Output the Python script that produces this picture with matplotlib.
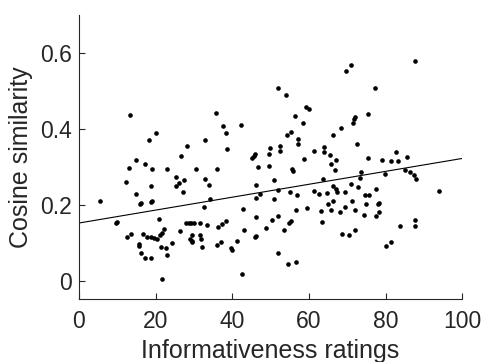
import matplotlib
matplotlib.use("Agg")
import matplotlib.pyplot as plt
import numpy as np

# informativeness rating per item (x) and cosine similarity (y)
ratings = [
    5.5, 9.6, 10.0, 12.3, 12.5, 13.2, 13.4, 13.6, 14.8, 15.0,
    15.6, 15.7, 15.9, 16.2, 16.1, 16.6, 17.2, 17.3, 17.8, 18.2,
    18.7, 18.9, 19.1, 18.9, 19.2, 18.7, 19.5, 20.2, 20.5, 20.9,
    21.4, 21.1, 21.7, 21.7, 22.2, 22.7, 22.9, 23.0, 24.2, 25.4,
    25.3, 26.1, 26.5, 26.7, 27.2, 27.5, 28.2, 28.0, 28.6, 29.3,
    30.1, 28.9, 29.4, 29.6, 29.5, 30.5, 31.7, 31.5, 31.9, 32.1,
    32.7, 32.8, 32.8, 33.3, 33.9, 34.1, 35.8, 36.1, 36.2, 36.1,
    37.1, 37.4, 37.7, 38.3, 38.3, 38.7, 39.7, 39.9, 41.3, 42.2,
    42.7, 42.5, 43.2, 45.1, 45.6, 45.9, 46.1, 46.0, 46.2, 46.2,
    46.2, 46.8, 47.2, 48.7, 49.6, 49.7, 49.8, 50.3, 50.8, 50.9,
    52.0, 52.0, 52.0, 52.0, 52.4, 52.5, 53.6, 54.0, 54.2, 54.6,
    54.8, 55.3, 55.2, 55.3, 55.6, 55.9, 56.4, 56.6, 56.6, 56.8,
    57.2, 57.2, 58.5, 58.6, 59.4, 59.3, 59.9, 61.3, 61.4, 62.6,
    63.1, 63.4, 63.8, 63.9, 64.0, 64.7, 64.9, 65.6, 65.8, 65.8,
    66.2, 66.2, 66.4, 66.8, 67.2, 67.2, 67.3, 68.2, 68.5, 68.7,
    69.5, 69.5, 69.8, 71.0, 70.5, 71.0, 71.2, 71.4, 71.8, 72.0,
    71.9, 71.9, 72.6, 72.9, 73.5, 73.4, 74.5, 74.7, 74.9, 75.3,
    75.3, 75.6, 77.2, 77.4, 77.6, 78.0, 78.4, 78.2, 79.1, 79.9,
    80.2, 81.3, 81.5, 82.6, 83.3, 83.7, 85.5, 85.1, 86.5, 87.4,
    87.9, 87.6, 87.6, 87.8, 93.9,
]
similarity = [
    0.210, 0.152, 0.154, 0.260, 0.116, 0.297, 0.437, 0.124, 0.317, 0.228,
    0.091, 0.096, 0.201, 0.205, 0.074, 0.124, 0.059, 0.307, 0.114, 0.370,
    0.250, 0.208, 0.211, 0.061, 0.293, 0.114, 0.112, 0.388, 0.109, 0.163,
    0.088, 0.120, 0.127, 0.004, 0.137, 0.085, 0.067, 0.294, 0.100, 0.272,
    0.250, 0.257, 0.131, 0.328, 0.234, 0.265, 0.355, 0.153, 0.153, 0.153,
    0.152, 0.109, 0.103, 0.104, 0.120, 0.293, 0.152, 0.120, 0.110, 0.088,
    0.194, 0.371, 0.269, 0.148, 0.253, 0.215, 0.441, 0.293, 0.142, 0.095,
    0.102, 0.150, 0.407, 0.389, 0.158, 0.347, 0.087, 0.081, 0.104, 0.411,
    0.188, 0.017, 0.133, 0.323, 0.329, 0.334, 0.118, 0.114, 0.251, 0.169,
    0.219, 0.300, 0.229, 0.139, 0.302, 0.334, 0.350, 0.159, 0.264, 0.214,
    0.170, 0.074, 0.508, 0.238, 0.355, 0.341, 0.133, 0.490, 0.383, 0.044,
    0.152, 0.158, 0.233, 0.391, 0.295, 0.290, 0.435, 0.187, 0.050, 0.227,
    0.374, 0.359, 0.416, 0.321, 0.192, 0.457, 0.453, 0.236, 0.341, 0.228,
    0.184, 0.154, 0.268, 0.353, 0.338, 0.230, 0.203, 0.332, 0.307, 0.187,
    0.385, 0.250, 0.209, 0.292, 0.317, 0.241, 0.234, 0.180, 0.402, 0.123,
    0.233, 0.193, 0.553, 0.569, 0.120, 0.255, 0.211, 0.416, 0.425, 0.431,
    0.134, 0.185, 0.361, 0.247, 0.286, 0.270, 0.174, 0.225, 0.201, 0.439,
    0.324, 0.225, 0.508, 0.170, 0.241, 0.202, 0.206, 0.182, 0.318, 0.281,
    0.092, 0.315, 0.102, 0.340, 0.315, 0.145, 0.326, 0.291, 0.287, 0.279,
    0.268, 0.159, 0.145, 0.578, 0.236,
]

# least-squares line as drawn in the figure
fit_intercept = 0.152
fit_slope = 0.0017
fit_x = [0, 100]

x_ticks = [0, 20, 40, 60, 80, 100]
y_ticks = [0, 0.2, 0.4, 0.6]

plt.rcParams['font.family'] = ['Liberation Sans', 'DejaVu Sans']

fig = plt.figure(figsize=(4.84, 3.62), dpi=100)
ax = fig.add_axes([0.163, 0.174, 0.792, 0.785])

ax.scatter(ratings, similarity, s=11, color='black', linewidths=0, zorder=3)
line_x = np.array(fit_x, dtype=float)
ax.plot(line_x, fit_intercept + fit_slope * line_x, color='black', lw=0.8)

ax.set_xlim(0, 100)
ax.set_ylim(-0.048, 0.7)
ax.set_xticks(x_ticks)
ax.set_xticklabels([str(t) for t in x_ticks])
ax.set_yticks(y_ticks)
ax.set_yticklabels(['0', '0.2', '0.4', '0.6'])

for side in ['top', 'right']:
    ax.spines[side].set_visible(False)
for side in ['left', 'bottom']:
    ax.spines[side].set_linewidth(0.8)
    ax.spines[side].set_color('#262626')

ax.tick_params(direction='in', length=4, width=0.8, labelsize=16.5,
               colors='#262626')
ax.tick_params(axis='x', pad=8)
ax.tick_params(axis='y', pad=5)
ax.set_xlabel('Informativeness ratings', fontsize=18, color='#262626', labelpad=4)
ax.set_ylabel('Cosine similarity', fontsize=18, color='#262626', labelpad=5)

fig.savefig('out.png', dpi=100)
